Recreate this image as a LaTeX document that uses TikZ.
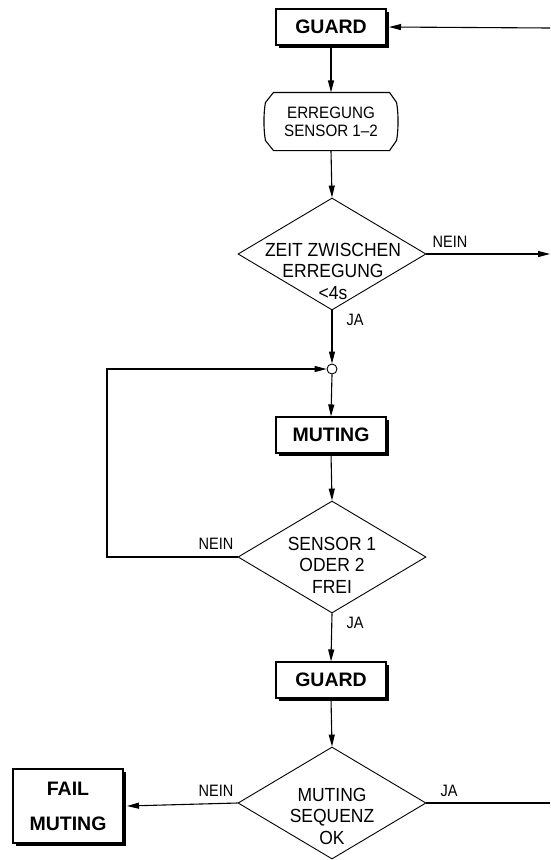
\documentclass[tikz,border=0pt]{standalone}
\usepackage{fontspec}
\setmainfont{Liberation Sans}
\usetikzlibrary{shapes.geometric,arrows.meta,shadows,calc}
\begin{document}
\begin{tikzpicture}[x=1pt,y=-1pt,
  line width=1.1pt,
  arr/.style={-{Triangle[length=12pt,width=6pt]}},
  box/.style={draw, fill=white, line width=1.1pt, minimum width=110pt, minimum height=36pt, inner sep=0pt,
    font=\fontsize{19.5}{22}\selectfont\bfseries,
    drop shadow={shadow xshift=2.5pt, shadow yshift=-2.5pt, fill=black, opacity=1}},
  dia/.style={draw, diamond, minimum width=188pt, minimum height=112pt, inner sep=0pt, line width=0.9pt},
  dtext/.style={align=center, inner sep=0pt, xscale=0.92, font=\fontsize{19}{21.5}\selectfont},
  lbl/.style={inner sep=0pt, xscale=0.88, font=\fontsize{16.5}{18}\selectfont},
  junc/.style={draw, circle, minimum size=10pt, inner sep=0pt, line width=0.9pt, fill=white}
]
\useasboundingbox (0,0) rectangle (550,860);

% nodes
\node[box] (g1) at (331,27) {GUARD};
\node[inner sep=0pt, minimum width=132pt, minimum height=57pt] (e) at (331,121.5) {};
\node[dtext, font=\fontsize{16.5}{18}\selectfont] (et) at (331,122) {ERREGUNG\\SENSOR 1–2};
\node[dia] (d1) at (332,254) {};
\node[dtext] (d1t) at (333,271) {ZEIT ZWISCHEN\\ERREGUNG\\<4s};
\node[junc] (j) at (332,369) {};
\node[box] (m) at (331,435) {MUTING};
\node[dia] (d2) at (332,557) {};
\node[dtext] (d2t) at (332,565) {SENSOR 1\\ODER 2\\FREI};
\node[box] (g2) at (331,680) {GUARD};
\node[dia] (d3) at (332,803) {};
\node[dtext] (d3t) at (332,816) {MUTING\\SEQUENZ\\OK};
\node[box, minimum height=74pt, align=center, font=\fontsize{19.5}{35}\selectfont\bfseries] (f) at (68,806) {FAIL\\MUTING};

% ERREGUNG outline
\draw[line width=1.1pt]
  ($(e.north west)+(9,0)$) -- ($(e.north east)+(-8,0)$)
  -- ($(e.north east)+(-1,10)$)
  .. controls ($(e.east)+(1,-8)$) and ($(e.east)+(1,8)$) .. ($(e.south east)+(-1,-10)$)
  -- ($(e.south east)+(-8,0)$)
  -- ($(e.south west)+(9,0)$)
  -- ($(e.south west)+(1,-10)$)
  .. controls ($(e.west)+(-1,8)$) and ($(e.west)+(-1,-8)$) .. ($(e.north west)+(1,10)$)
  -- cycle;

% coordinates
\coordinate (rin) at (550,28);
\coordinate (rout1) at (550,254);
\coordinate (rout3) at (550,803);
\coordinate (lp1) at (107,557);
\coordinate (lp2) at (107,369);

% connectors
\draw[arr] (rin) -- (g1.east -| 389,0);
\draw[arr] (g1.south) -- (e.north);
\draw[arr] (e.south) -- (d1.north);
\draw[arr] (d1.east) -- (rout1);
\draw[arr] (d1.south) -- (j.north);
\draw[arr] (d2.west) -- (lp1) -- (lp2) -- (j.west);
\draw[arr] (j.south) -- (m.north);
\draw[arr] (m.south) -- (d2.north);
\draw[arr] (d2.south) -- (g2.north);
\draw[arr] (g2.south) -- (d3.north);
\draw[arr] (d3.west) -- (f.east -| 127,0);
\draw (d3.east) -- (rout3);

% labels
\node[lbl] (n1) at (450,242) {NEIN};
\node[lbl] (ja1) at (355,320) {JA};
\node[lbl] (n2) at (216,544) {NEIN};
\node[lbl] (ja2) at (355,623) {JA};
\node[lbl] (n3) at (216,791) {NEIN};
\node[lbl] (ja3) at (449,791) {JA};
\end{tikzpicture}
\end{document}
